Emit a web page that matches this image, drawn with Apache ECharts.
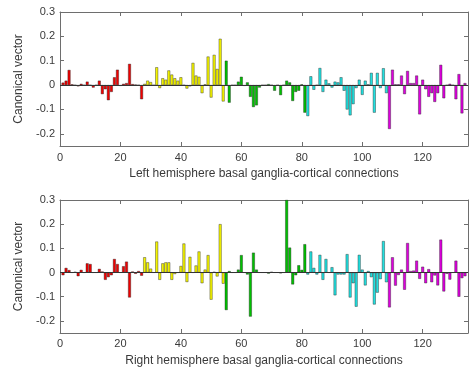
<!DOCTYPE html>
<html>
<head>
<meta charset="utf-8">
<script src="https://cdn.jsdelivr.net/npm/echarts@6/dist/echarts.min.js"></script>
<style>html,body{margin:0;padding:0;background:#fff;}#c{width:471px;height:368px;}</style>
</head>
<body>
<div id="c"></div>
<script>
// ---- data ----
const leftValues = [
  0.01, 0.018, 0.062, 0.003, 0.0, -0.005, 0.005, 0.0, 0.014, 0.0,
  -0.01, 0.0, 0.018, -0.037, -0.017, -0.062, -0.028, 0.032, 0.063, -0.003,
  0.005, 0.008, 0.087, 0.004, 0.002, 0.0, -0.058, 0.005, 0.018, 0.012,
  0.0, 0.073, -0.012, 0.028, 0.022, 0.06, 0.043, 0.028, 0.018, 0.032,
  0.0, -0.014, -0.005, 0.091, 0.039, 0.034, -0.033, 0.003, 0.117, -0.051,
  0.124, 0.066, 0.19, -0.067, 0.1, -0.072, 0.0, 0.0, 0.014, 0.034,
  -0.003, 0.011, -0.048, -0.09, -0.083, -0.01, 0.0, 0.0, 0.004, 0.0,
  -0.023, 0.0, -0.041, 0.0, 0.018, 0.011, -0.065, -0.028, -0.023, 0.003,
  -0.113, -0.127, 0.036, -0.019, 0.0, 0.07, -0.028, 0.022, 0.007, -0.01,
  0.014, 0.011, 0.032, -0.023, -0.1, -0.124, -0.078, -0.012, 0.022, -0.04,
  0.018, 0.003, 0.05, -0.113, 0.05, -0.012, 0.069, -0.033, -0.18, 0.063,
  0.003, 0.003, 0.039, -0.037, 0.058, 0.008, 0.008, 0.039, -0.12, 0.022,
  -0.017, -0.048, -0.033, -0.069, -0.033, 0.083, -0.054, 0.0, 0.005, 0.0,
  -0.058, 0.045, -0.116, 0.008
];
const rightValues = [
  -0.011, 0.019, 0.01, 0.0, 0.003, -0.015, 0.011, 0.0, 0.038, 0.035,
  0.0, 0.0, 0.015, 0.004, -0.03, -0.019, -0.011, 0.056, 0.035, 0.0,
  0.026, 0.045, -0.103, 0.004, -0.005, 0.006, -0.013, 0.063, 0.042, 0.016,
  0.0, 0.128, -0.03, 0.038, 0.042, 0.042, -0.03, -0.006, 0.0, 0.027,
  0.12, -0.039, 0.065, 0.0, 0.029, 0.087, -0.044, 0.012, 0.072, -0.112,
  0.003, -0.016, 0.2, -0.046, -0.155, 0.006, 0.0, 0.0, 0.012, 0.072,
  0.0, -0.008, -0.182, 0.082, 0.012, 0.0, 0.0, 0.0, -0.004, 0.003,
  0.0, 0.0, -0.003, 0.0, 0.3, 0.103, -0.049, -0.011, 0.03, 0.011,
  0.117, -0.008, 0.087, 0.019, -0.008, 0.073, -0.03, 0.056, 0.0, 0.022,
  -0.094, -0.008, -0.008, -0.008, 0.076, -0.103, -0.044, -0.141, 0.073, 0.012,
  -0.053, 0.006, -0.019, -0.132, -0.083, -0.027, 0.13, -0.04, -0.144, 0.063,
  -0.054, -0.01, 0.012, -0.071, 0.122, 0.006, 0.008, 0.049, -0.026, 0.024,
  -0.044, 0.014, -0.04, -0.012, -0.053, 0.136, -0.078, -0.005, -0.029, 0.0,
  0.049, -0.1, -0.023, -0.015
];
const regionStarts = [1, 28, 55, 82, 109];
const xTicks = [0, 20, 40, 60, 80, 100, 120];
const yTicks = [-0.2, -0.1, 0, 0.1, 0.2, 0.3];
const panelTitles = ['Left hemisphere basal ganglia-cortical connections',
                     'Right hemisphere basal ganglia-cortical connections'];
const yTitle = 'Canonical vector';

// ---- styles ----
const regionColors = ['#f00000', '#f5f500', '#00c000', '#22e0e0', '#dd00dd'];
const FONT = 'Liberation Sans, Arial, sans-serif';
const AX = '#6e6e6e';
const TXT = '#3a3a3a';

function regionOf(x) {
  let r = 0;
  for (let k = 0; k < regionStarts.length; k++) if (x >= regionStarts[k]) r = k;
  return r;
}
function toData(vals) {
  return vals.map((v, i) => ({
    value: [i + 1, v],
    itemStyle: { color: regionColors[regionOf(i + 1)] }
  }));
}

const XMIN = 0, XMAX = 135, YMIN = -0.25, YMAX = 0.3;
const grids = [
  { left: 60, right: 3, top: 12, height: 134 },
  { left: 60, right: 3, top: 200, height: 135 }
];
const lineOf = () => ({ show: true, onZero: false, lineStyle: { color: AX, width: 1 } });
const tickOf = () => ({ show: true, inside: true, length: 4, lineStyle: { color: AX } });

const xAxes = [], yAxes = [], series = [];
[leftValues, rightValues].forEach((vals, g) => {
  xAxes.push({
    type: 'value', gridIndex: g, position: 'bottom', min: XMIN, max: XMAX, interval: 20,
    axisLine: lineOf(), axisTick: tickOf(),
    splitLine: { show: false },
    axisLabel: { show: true, margin: g === 0 ? 6 : 5, color: TXT, fontFamily: FONT, fontSize: 11,
      showMaxLabel: false,
      formatter: v => xTicks.indexOf(v) >= 0 ? String(v) : '' },
    name: panelTitles[g], nameLocation: 'middle', nameGap: 22,
    nameTextStyle: { color: TXT, fontFamily: FONT, fontSize: 12 }
  });
  xAxes.push({
    type: 'value', gridIndex: g, position: 'top', min: XMIN, max: XMAX, interval: 20,
    axisLine: lineOf(), axisTick: tickOf(),
    splitLine: { show: false }, axisLabel: { show: false }
  });
  yAxes.push({
    type: 'value', gridIndex: g, position: 'left', min: YMIN, max: YMAX, splitNumber: 5,
    axisLine: lineOf(), axisTick: tickOf(),
    splitLine: { show: false },
    axisLabel: { show: true, margin: 5, color: TXT, fontFamily: FONT, fontSize: 11,
      showMinLabel: false,
      formatter: v => {
        const r = Math.round(v * 10) / 10;
        return yTicks.some(t => Math.abs(t - v) < 1e-9) ? (r === 0 ? '0' : String(r)) : '';
      } },
    name: yTitle, nameLocation: 'middle', nameGap: 31, nameRotate: 90,
    nameTextStyle: { color: TXT, fontFamily: FONT, fontSize: 12 }
  });
  yAxes.push({
    type: 'value', gridIndex: g, position: 'right', min: YMIN, max: YMAX, splitNumber: 5,
    axisLine: lineOf(), axisTick: tickOf(),
    splitLine: { show: false }, axisLabel: { show: false }
  });
  series.push({
    type: 'bar', xAxisIndex: g * 2, yAxisIndex: g * 2,
    data: toData(vals), barWidth: 2.8,
    itemStyle: { borderColor: '#222', borderWidth: 0.4 },
    clip: true, animation: false,
    markLine: {
      silent: true, symbol: 'none', animation: false,
      label: { show: false },
      lineStyle: { color: '#333', width: 1, type: 'solid' },
      data: [{ yAxis: 0 }]
    }
  });
});

const chart = echarts.init(document.getElementById('c'), null, { renderer: 'canvas' });
chart.setOption({
  backgroundColor: '#fff',
  animation: false,
  grid: grids,
  xAxis: xAxes,
  yAxis: yAxes,
  series: series
});
</script>
</body>
</html>
